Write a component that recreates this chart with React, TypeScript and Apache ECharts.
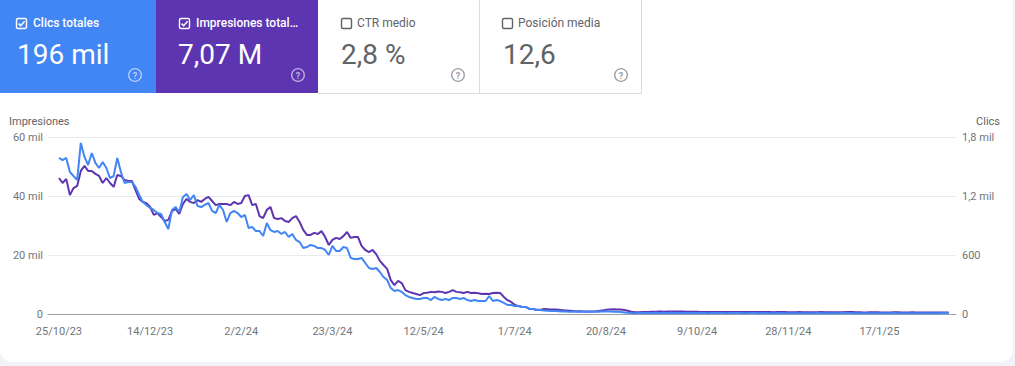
import React, { useEffect, useRef } from 'react';
import * as echarts from 'echarts';

// ---- data ----
const firstDataDate = '25/10/23';
const tickLabels = ['25/10/23', '14/12/23', '2/2/24', '23/3/24', '12/5/24', '1/7/24', '20/8/24', '9/10/24', '28/11/24', '17/1/25'];

// Impressions (thousands), one value every 2 days from 25/10/23
const impressionsK = [
  46.1, 44.4, 45.8, 40.3, 42.7, 43.4, 48.5, 50.2, 48.5, 48.5,
  47.5, 46.8, 44.4, 46.1, 44.4, 43.1, 47.1, 46.8, 45.4, 45.1,
  45.1, 42.0, 39.0, 38.0, 37.6, 36.3, 33.6, 34.2, 32.9, 31.5,
  31.9, 34.9, 35.6, 33.9, 37.3, 39.0, 38.0, 37.6, 38.6, 38.0,
  39.0, 39.7, 38.3, 36.9, 37.3, 37.3, 37.3, 36.9, 38.0, 37.3,
  37.6, 40.0, 40.3, 36.9, 37.3, 33.2, 32.5, 35.3, 36.3, 32.5,
  32.2, 32.5, 31.5, 31.2, 32.5, 33.2, 31.2, 28.5, 26.8, 26.8,
  27.5, 27.1, 28.1, 26.1, 23.4, 25.1, 25.8, 25.4, 26.4, 27.8,
  25.8, 26.1, 26.1, 23.1, 21.7, 21.0, 21.7, 20.3, 18.0, 16.6,
  15.3, 11.5, 9.8, 11.2, 10.5, 8.1, 7.5, 7.1, 6.8, 6.4,
  7.1, 7.2, 7.5, 7.4, 7.6, 7.5, 7.1, 7.5, 8.1, 7.5,
  7.4, 7.1, 7.5, 7.1, 7.2, 7.0, 6.8, 6.9, 6.8, 7.1,
  7.2, 7.1, 5.8, 4.7, 4.1, 3.1, 2.7, 2.4, 2.4, 1.7,
  1.7, 1.4, 1.4,
  1.7, 1.6, 1.5, 1.5, 1.4, 1.3, 1.2, 1.1, 1.0, 0.95,
  0.9, 0.85, 0.85, 0.85, 0.9, 1.0, 1.2, 1.4, 1.5, 1.6,
  1.55, 1.5, 1.35, 1.1, 0.8, 0.6, 0.62, 0.68, 0.72, 0.75,
  0.8, 0.82, 0.85, 0.8, 0.85, 0.88, 0.85, 0.82, 0.85, 0.8,
  0.78, 0.75, 0.78, 0.72, 0.7, 0.68, 0.65, 0.68, 0.66, 0.7,
  0.68, 0.65, 0.66, 0.7, 0.72, 0.68, 0.66, 0.64, 0.66, 0.68,
  0.7, 0.66, 0.64, 0.62, 0.65, 0.68, 0.66, 0.63, 0.6, 0.62,
  0.65, 0.63, 0.6, 0.58, 0.6, 0.62, 0.64, 0.6, 0.58, 0.56,
  0.58, 0.6, 0.62, 0.66, 0.7, 0.64, 0.6, 0.57, 0.55, 0.56,
  0.58, 0.6, 0.57, 0.55, 0.53, 0.55, 0.58, 0.56, 0.54, 0.52,
  0.54, 0.56, 0.53, 0.5, 0.52, 0.55, 0.53, 0.5, 0.48, 0.5,
  0.52, 0.55,
];

// Clicks, one value every 2 days from 25/10/23
const clicks = [
  1587, 1566, 1587, 1444, 1403, 1363, 1740, 1597, 1515, 1637,
  1536, 1485, 1546, 1485, 1383, 1403, 1587, 1444, 1332, 1342,
  1342, 1292, 1210, 1139, 1109, 1078, 1058, 1027, 1017, 936,
  864, 1058, 1088, 1037, 1190, 1220, 1159, 1210, 1098, 1088,
  1109, 1129, 1048, 1027, 1109, 1058, 936, 1027, 1048, 1027,
  986, 1007, 875, 885, 844, 844, 793, 925, 854, 834,
  844, 814, 834, 783, 814, 753, 732, 671, 681, 702,
  692, 671, 671, 651, 600, 692, 641, 641, 681, 671,
  570, 559, 559, 570, 519, 468, 458, 468, 427, 376,
  346, 264, 234, 244, 224, 193, 173, 163, 153, 153,
  163, 163, 142, 173, 153, 142, 153, 142, 163, 163,
  153, 163, 142, 132, 142, 132, 132, 132, 183, 132,
  142, 132, 112, 92, 92, 81, 81, 71, 71, 51,
  51, 41, 41,
  36, 34, 31, 30, 28, 26, 25, 24, 23, 23,
  22, 22, 23, 22, 23, 24, 26, 27, 25, 24,
  23, 20, 16, 12, 9, 8, 9, 10, 10, 11,
  11, 12, 11, 10, 11, 12, 11, 10, 11, 10,
  10, 9, 10, 9, 9, 8, 9, 10, 9, 9,
  8, 9, 9, 10, 9, 8, 8, 9, 9, 8,
  9, 8, 8, 7, 8, 9, 8, 8, 7, 8,
  8, 7, 7, 8, 8, 9, 8, 7, 7, 8,
  8, 8, 9, 10, 9, 8, 8, 7, 7, 8,
  8, 7, 8, 7, 7, 8, 9, 8, 7, 7,
  8, 7, 7, 8, 7, 7, 8, 7, 8, 9,
  10, 11,
];

const cardTitles = ['Clics totales', 'Impresiones total…', 'CTR medio', 'Posición media'];
const cardValues = ['196 mil', '7,07 M', '2,8 %', '12,6'];
const cardChecked = [true, true, false, false];

// ---- layout/style ----
const FONT = 'Roboto, "Noto Sans", Arial, sans-serif';
const BLUE = '#4285f4';
const PURPLE = '#5e35b1';
const GREY_TEXT = '#5f6368';
const PAD_BEFORE = 3;
const PAD_AFTER = 2;
const STEP_DAYS = 2;

function fmtDate(t: number) {
  const d = new Date(t);
  return `${d.getUTCDate()}/${d.getUTCMonth() + 1}/${String(d.getUTCFullYear()).slice(2)}`;
}

function buildCategories(): string[] {
  const [dd, mm, yy] = firstDataDate.split('/').map(Number);
  const first = Date.UTC(2000 + yy, mm - 1, dd);
  const n = PAD_BEFORE + impressionsK.length + PAD_AFTER;
  const out: string[] = [];
  for (let k = 0; k < n; k++) {
    out.push(fmtDate(first + (k - PAD_BEFORE) * STEP_DAYS * 86400000));
  }
  return out;
}

const tabs = [
  { x: 0, w: 156, bg: BLUE, cb: 16, title: 33, value: 17, help: 135 },
  { x: 156, w: 162, bg: PURPLE, cb: 179, title: 196, value: 178, help: 298 },
  { x: 318, w: 162, bg: '#ffffff', cb: 341, title: 357, value: 341, help: 458 },
  { x: 480, w: 161, bg: '#ffffff', cb: 502, title: 518, value: 503, help: 621 },
];

function buildGraphic() {
  const els: any[] = [];
  tabs.forEach((t, i) => {
    const selected = cardChecked[i];
    const fg = selected ? '#ffffff' : GREY_TEXT;
    els.push({ type: 'rect', shape: { x: t.x, y: 0, width: t.w, height: 93 }, style: { fill: t.bg }, silent: true });
    els.push({
      type: 'rect',
      shape: { x: t.cb + 0.5, y: 18.5, width: 10, height: 10, r: 1.5 },
      style: { fill: 'none', stroke: fg, lineWidth: 1.4 },
      silent: true,
    });
    if (selected) {
      els.push({
        type: 'polyline',
        shape: { points: [[t.cb + 2.6, 23.6], [t.cb + 4.7, 25.7], [t.cb + 8.6, 21.3]] },
        style: { fill: 'none', stroke: fg, lineWidth: 1.5 },
        silent: true,
      });
    }
    els.push({
      type: 'text',
      x: t.title,
      y: 23,
      style: {
        text: cardTitles[i],
        fill: fg,
        fontSize: 12,
        fontFamily: FONT,
        fontWeight: selected ? 500 : 400,
        align: 'left',
        verticalAlign: 'middle',
      },
      silent: true,
    });
    els.push({
      type: 'text',
      x: t.value,
      y: 54.5,
      style: {
        text: cardValues[i],
        fill: fg,
        fontSize: 28,
        fontFamily: FONT,
        fontWeight: 400,
        align: 'left',
        verticalAlign: 'middle',
      },
      silent: true,
    });
    const helpColor = selected ? 'rgba(255,255,255,0.6)' : '#9aa0a6';
    els.push({
      type: 'circle',
      shape: { cx: t.help, cy: 75, r: 6.3 },
      style: { fill: 'none', stroke: helpColor, lineWidth: 1.3 },
      silent: true,
    });
    els.push({
      type: 'text',
      x: t.help,
      y: 75.5,
      style: {
        text: '?',
        fill: helpColor,
        fontSize: 9,
        fontWeight: 700,
        fontFamily: FONT,
        align: 'center',
        verticalAlign: 'middle',
      },
      silent: true,
    });
  });
  els.push({ type: 'line', shape: { x1: 318, y1: 93.5, x2: 641, y2: 93.5 }, style: { stroke: '#dadce0', lineWidth: 1 }, silent: true });
  els.push({ type: 'line', shape: { x1: 479.5, y1: 0, x2: 479.5, y2: 93 }, style: { stroke: '#dadce0', lineWidth: 1 }, silent: true });
  els.push({ type: 'line', shape: { x1: 641.5, y1: 0, x2: 641.5, y2: 94 }, style: { stroke: '#dadce0', lineWidth: 1 }, silent: true });
  els.push({
    type: 'text', x: 9, y: 121,
    style: { text: 'Impresiones', fill: GREY_TEXT, fontSize: 11, fontFamily: FONT, align: 'left', verticalAlign: 'middle' },
    silent: true,
  });
  els.push({
    type: 'text', x: 1000, y: 121,
    style: { text: 'Clics', fill: GREY_TEXT, fontSize: 11, fontFamily: FONT, align: 'right', verticalAlign: 'middle' },
    silent: true,
  });
  return els;
}

export default function App() {
  const ref = useRef<HTMLDivElement>(null);

  useEffect(() => {
    document.body.style.margin = '0';
    if (!ref.current) return;
    const chart = echarts.init(ref.current, undefined, { renderer: 'svg' });
    const categories = buildCategories();
    const pad = (arr: number[]) => [
      ...Array(PAD_BEFORE).fill(null),
      ...arr,
      ...Array(PAD_AFTER).fill(null),
    ];
    const axisLabelStyle = { color: '#70757a', fontSize: 11, fontFamily: FONT };

    chart.setOption({
      animation: false,
      backgroundColor: 'transparent',
      textStyle: { fontFamily: FONT },
      grid: { left: 48, right: 59, top: 137, bottom: 52, containLabel: false },
      graphic: buildGraphic(),
      xAxis: {
        type: 'category',
        data: categories,
        boundaryGap: false,
        axisLine: { show: true, lineStyle: { color: '#9aa0a6', width: 1 } },
        axisTick: { show: false },
        axisLabel: {
          ...axisLabelStyle,
          margin: 12,
          interval: (_i: number, v: string) => tickLabels.includes(v),
        },
        splitLine: { show: false },
      },
      yAxis: [
        {
          type: 'value',
          position: 'left',
          min: 0,
          max: 60,
          interval: 20,
          axisLine: { show: false },
          axisTick: { show: false },
          axisLabel: {
            ...axisLabelStyle,
            margin: 5,
            formatter: (v: number) => (v === 0 ? '0' : `${v} mil`),
          },
          splitLine: { show: true, lineStyle: { color: '#e8eaed', width: 1 } },
        },
        {
          type: 'value',
          position: 'right',
          min: 0,
          max: 1800,
          interval: 600,
          axisLine: { show: false },
          axisTick: { show: false },
          axisLabel: {
            ...axisLabelStyle,
            margin: 6,
            formatter: (v: number) =>
              v >= 1000 ? `${String(v / 1000).replace('.', ',')} mil` : String(v),
          },
          splitLine: { show: false },
        },
      ],
      series: [
        {
          name: 'Impresiones',
          type: 'line',
          yAxisIndex: 0,
          data: pad(impressionsK),
          showSymbol: false,
          symbol: 'none',
          lineStyle: { color: PURPLE, width: 2 },
          itemStyle: { color: PURPLE },
          connectNulls: false,
          z: 3,
        },
        {
          name: 'Clics',
          type: 'line',
          yAxisIndex: 1,
          data: pad(clicks),
          showSymbol: false,
          symbol: 'none',
          lineStyle: { color: BLUE, width: 2 },
          itemStyle: { color: BLUE },
          connectNulls: false,
          z: 4,
        },
      ],
    });
    return () => chart.dispose();
  }, []);

  return (
    <div style={{ position: 'relative', width: 1015, height: 366, background: '#f0f4f9', overflow: 'hidden' }}>
      <div
        style={{
          position: 'absolute',
          left: 0,
          top: 0,
          width: 1013,
          height: 362,
          background: '#ffffff',
          borderBottomLeftRadius: 12,
          borderBottomRightRadius: 12,
        }}
      />
      <div ref={ref} style={{ position: 'absolute', left: 0, top: 0, width: 1015, height: 366 }} />
    </div>
  );
}
